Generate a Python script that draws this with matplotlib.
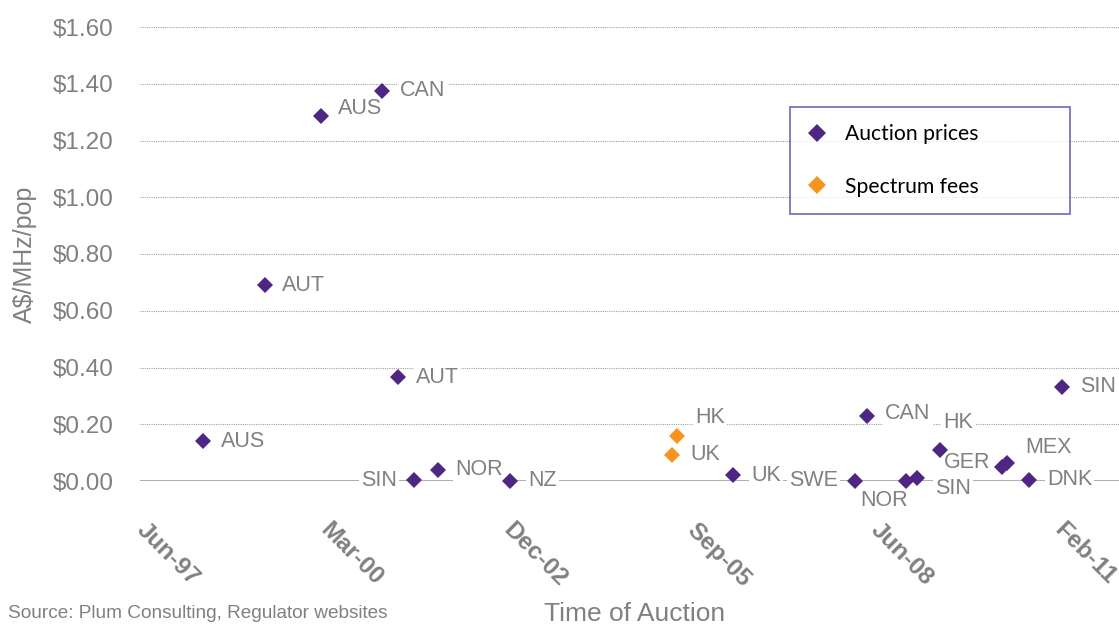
import matplotlib
matplotlib.use("Agg")
import matplotlib.pyplot as plt
import matplotlib.dates as mdates
from matplotlib.lines import Line2D
import numpy as np
import pandas as pd

# Auction results, A$ per MHz per head of population
auction_countries = ["AUS", "AUT", "AUS", "CAN", "AUT", "SIN", "NOR", "NZ", "UK",
                     "SWE", "CAN", "NOR", "SIN", "HK", "GER", "MEX", "DNK", "SIN"]
auction_dates = ["1998-05-29", "1999-05-02", "2000-03-02", "2001-01-29", "2001-04-26",
                 "2001-07-22", "2001-11-30", "2002-12-27", "2006-04-26", "2008-02-19",
                 "2008-04-25", "2008-11-23", "2009-01-22", "2009-05-28", "2010-05-01",
                 "2010-05-28", "2010-09-25", "2011-03-24"]
auction_prices = [0.14, 0.69, 1.285, 1.375, 0.365, 0.003, 0.04, 0.0, 0.02,
                  0.0, 0.23, 0.0, 0.01, 0.11, 0.05, 0.063, 0.005, 0.333]

# Administratively set spectrum fees
fee_countries = ["HK", "UK"]
fee_dates = ["2005-06-24", "2005-05-28"]
fee_prices = [0.16, 0.092]

y_ticks = [0.0, 0.2, 0.4, 0.6, 0.8, 1.0, 1.2, 1.4, 1.6]
x_tick_labels = ["Jun-97", "Mar-00", "Dec-02", "Sep-05", "Jun-08", "Feb-11"]

# label placement: (dx px, dy px upward, horizontal alignment)
auction_label_pos = [(18, 0, "left"), (17, 0, "left"), (17, 8, "left"), (18, 0, "left"),
                     (18, 0, "left"), (-17, 0, "right"), (17, 0, "left"), (18, 0, "left"),
                     (18, 0, "left"), (-17, 0, "right"), (18, 2, "left"), (-22, -19, "center"),
                     (18, -10, "left"), (3, 27, "left"), (-12, 4, "right"), (18, 16, "left"),
                     (18, 0, "left"), (18, 0, "left")]
fee_label_pos = [(18, 18, "left"), (18, 0, "left")]

PURPLE = "#4F2683"
ORANGE = "#F7941E"
GREY = "#808080"
SANS = ["Liberation Sans", "DejaVu Sans"]

W, H = 1119, 627
fig = plt.figure(figsize=(W / 100, H / 100), dpi=100)
ax = fig.add_axes([140 / W, 1 - 481 / H, 1 - 140 / W, (481 - 27) / H])

x_start = mdates.date2num(pd.Timestamp("1997-06-20"))
ax.set_xlim(x_start, x_start + 5335)
ax.set_ylim(0, 1.6)

for sp in ax.spines.values():
    sp.set_visible(False)

ax.set_yticks(y_ticks)
ax.set_yticklabels([f"${v:.2f}" for v in y_ticks], family=SANS, fontsize=17.5, color=GREY)
ax.set_xticks(x_start + 1000 * np.arange(len(x_tick_labels)))
ax.set_xticklabels(x_tick_labels, family=SANS, fontsize=17.5, fontweight="bold", color=GREY,
                   rotation=-45, ha="left", va="center", rotation_mode="anchor")
ax.tick_params(axis="y", length=0, pad=19)
ax.tick_params(axis="x", length=0, pad=33)

ax.yaxis.grid(True, color="#A0A0A0", linestyle=(0, (1, 1)), linewidth=0.8, zorder=0)
ax.set_axisbelow(True)
ax.axhline(0, color="#A6A6A6", linewidth=2, zorder=1)

def draw_series(dates, values, names, places, color):
    xs = mdates.date2num(pd.to_datetime(dates))
    ax.plot(xs, values, linestyle="none", marker="D", markersize=8.5, color=color,
            markeredgewidth=0, zorder=4, clip_on=False)
    for x, y, name, (dx, dy, ha) in zip(xs, values, names, places):
        ax.annotate(name, (x, y), xytext=(dx * 0.72, dy * 0.72), textcoords="offset points",
                    ha=ha, va="center", family=SANS, fontsize=15.5, color=GREY, zorder=3,
                    bbox=dict(facecolor="white", edgecolor="none", pad=1.5))

draw_series(auction_dates, auction_prices, auction_countries, auction_label_pos, PURPLE)
draw_series(fee_dates, fee_prices, fee_countries, fee_label_pos, ORANGE)

handles = [Line2D([], [], linestyle="none", marker="D", markersize=9, color=PURPLE,
                  markeredgewidth=0, label="Auction prices"),
           Line2D([], [], linestyle="none", marker="D", markersize=9, color=ORANGE,
                  markeredgewidth=0, label="Spectrum fees")]
leg = fig.legend(handles=handles, loc="upper left", mode="expand",
                 bbox_to_anchor=(790 / W, 1 - 212 / H, 280 / W, 105 / H),
                 borderaxespad=0, frameon=True, fancybox=False,
                 prop=dict(family=["Lato", "DejaVu Sans"], size=15.2),
                 labelspacing=1.55, borderpad=0.8, handlelength=1.0, handletextpad=0.8)
leg.get_frame().set_edgecolor("#5B3BA0")
leg.get_frame().set_linewidth(1.2)

ax.set_ylabel("A$/MHz/pop", family=SANS, fontsize=18, color=GREY)
ax.yaxis.set_label_coords(-(140 - 37) / (W - 140), 1 - (254 - 27) / (481 - 27))

fig.text(635 / W, 1 - 614 / H, "Time of Auction", family=SANS, fontsize=19, color=GREY,
         ha="center", va="center")
fig.text(8 / W, 1 - 613 / H, "Source: Plum Consulting, Regulator websites", family=SANS,
         fontsize=13.7, color=GREY, ha="left", va="center")

fig.savefig("out.png", dpi=100)
